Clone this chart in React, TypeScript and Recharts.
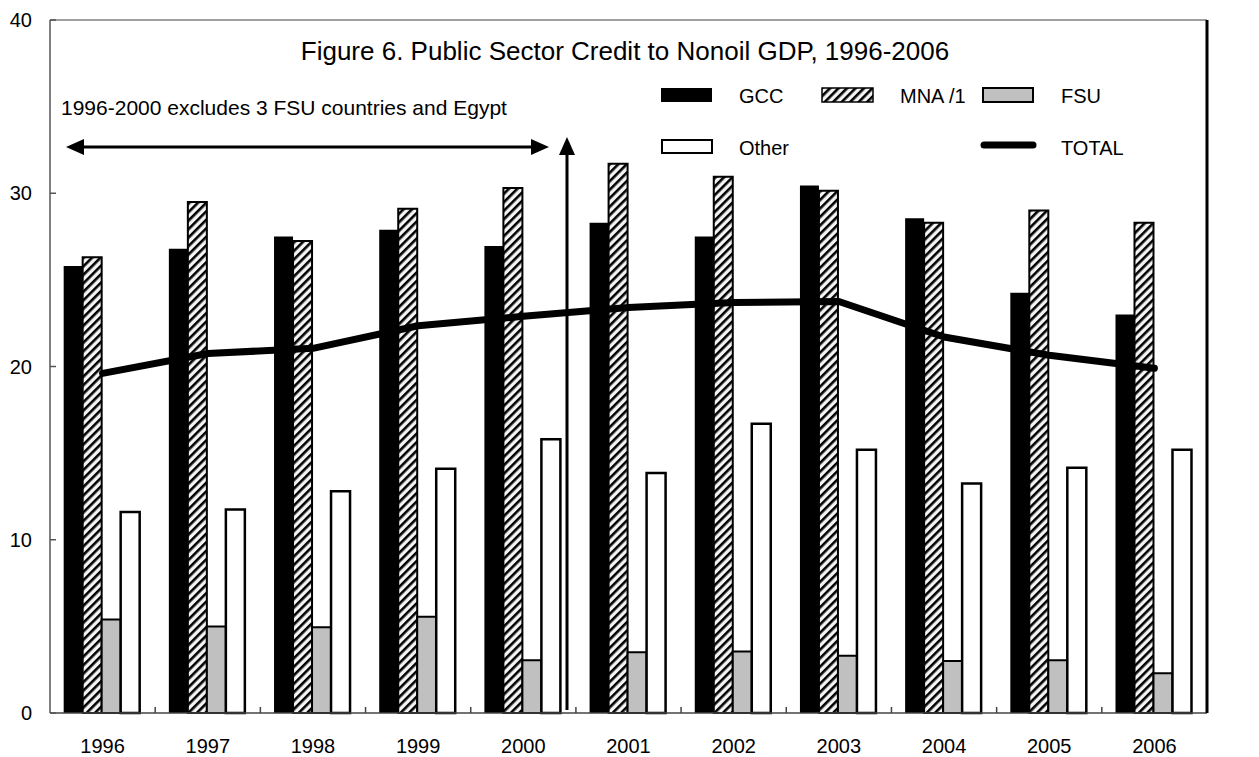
import { Bar, ComposedChart, Line, ReferenceLine, XAxis, YAxis } from "recharts";

// Public sector credit, percent of nonoil GDP
const YEARS = ["1996", "1997", "1998", "1999", "2000", "2001", "2002", "2003", "2004", "2005", "2006"];
const GCC = [25.8, 26.8, 27.5, 27.9, 26.95, 28.3, 27.5, 30.45, 28.55, 24.25, 23.0];
const MNA = [26.3, 29.5, 27.25, 29.1, 30.3, 31.7, 30.95, 30.15, 28.3, 29.0, 28.3];
const FSU = [5.4, 5.0, 4.95, 5.55, 3.05, 3.5, 3.55, 3.3, 3.0, 3.05, 2.3];
const OTHER = [11.6, 11.75, 12.8, 14.1, 15.8, 13.85, 16.7, 15.2, 13.25, 14.15, 15.2];
const TOTAL = [19.6, 20.75, 21.05, 22.35, 22.9, 23.4, 23.7, 23.75, 21.7, 20.65, 19.9];
const Y_TICKS = [0, 10, 20, 30, 40];

const rows = YEARS.map((year, i) => ({
  year,
  gcc: GCC[i],
  mna: MNA[i],
  fsu: FSU[i],
  other: OTHER[i],
  total: TOTAL[i],
}));

const W = 1259;
const H = 757;
const PLOT = { left: 50, right: 1207, top: 20, bottom: 713 };
const FONT = "Arial, 'Liberation Sans', sans-serif";

// year label plus a short inward tick on the left edge of each category
function YearTick(props: any) {
  const { x, payload, index } = props;
  const band = (PLOT.right - PLOT.left) / YEARS.length;
  const edge = x - band / 2;
  return (
    <g>
      {index > 0 ? (
        <line x1={edge} x2={edge} y1={PLOT.bottom} y2={PLOT.bottom - 6} stroke="#444" strokeWidth={1.5} />
      ) : null}
      <text x={x} y={PLOT.bottom + 40} textAnchor="middle" fontSize={20} fill="#000" fontFamily={FONT}>
        {payload.value}
      </text>
    </g>
  );
}

function Overlay() {
  return (
    <svg
      width={W}
      height={H}
      style={{ position: "absolute", left: 0, top: 0, pointerEvents: "none" }}
      fontFamily={FONT}
    >
      <text x={625} y={60} textAnchor="middle" fontSize={26} fill="#000">
        Figure 6. Public Sector Credit to Nonoil GDP, 1996-2006
      </text>

      {/* legend */}
      <rect x={661} y={88} width={51} height={14} fill="#000" />
      <text x={739} y={103} fontSize={20}>GCC</text>
      <rect x={822} y={88} width={51} height={14} fill="url(#hatch)" stroke="#000" strokeWidth={1.5} />
      <text x={900} y={103} fontSize={20}>MNA /1</text>
      <rect x={983} y={88} width={50} height={14} fill="#c0c0c0" stroke="#000" strokeWidth={2} />
      <text x={1061} y={103} fontSize={20}>FSU</text>
      <rect x={662} y={140} width={50} height={13} fill="#fff" stroke="#000" strokeWidth={2} />
      <text x={739} y={155} fontSize={20}>Other</text>
      <line x1={984} x2={1033} y1={145} y2={145} stroke="#000" strokeWidth={7} strokeLinecap="round" />
      <text x={1061} y={155} fontSize={20}>TOTAL</text>

      {/* coverage note */}
      <text x={61} y={115} fontSize={21}>1996-2000 excludes 3 FSU countries and Egypt</text>
      <line x1={80} x2={535} y1={147} y2={147} stroke="#000" strokeWidth={3} />
      <polygon points="66,147 84,139 84,155" fill="#000" />
      <polygon points="549,147 531,139 531,155" fill="#000" />
      <line x1={567} x2={567} y1={150} y2={710} stroke="#000" strokeWidth={3} />
      <polygon points="567,137 559,155 575,155" fill="#000" />
    </svg>
  );
}

export default function App() {
  return (
    <div style={{ position: "absolute", left: 0, top: 0, width: W, height: H, background: "#fff", fontFamily: FONT }}>
      <ComposedChart
        width={W}
        height={H}
        data={rows}
        margin={{ top: PLOT.top, right: 0, bottom: 0, left: 0 }}
        barCategoryGap="13%"
        barGap={0}
      >
        <defs>
          <pattern id="hatch" width={6} height={6} patternUnits="userSpaceOnUse" patternTransform="rotate(45)">
            <rect width={6} height={6} fill="#f4f4f4" />
            <rect width={2.6} height={6} fill="#000" />
          </pattern>
        </defs>
        <XAxis
          dataKey="year"
          height={H - PLOT.bottom}
          tick={<YearTick />}
          tickLine={false}
          axisLine={{ stroke: "#444", strokeWidth: 1.5 }}
          interval={0}
        />
        <YAxis
          yAxisId="left"
          width={PLOT.left}
          domain={[0, 40]}
          ticks={Y_TICKS}
          tickSize={-6}
          tickMargin={24}
          tick={{ fontSize: 20, fill: "#000" }}
          tickLine={{ stroke: "#555", strokeWidth: 1.5 }}
          axisLine={{ stroke: "#555", strokeWidth: 1.5 }}
        />
        <YAxis
          yAxisId="right"
          orientation="right"
          width={W - PLOT.right}
          domain={[0, 40]}
          ticks={Y_TICKS}
          tickSize={-5}
          tickMargin={22}
          tick={{ fontSize: 20, fill: "#000" }}
          tickLine={{ stroke: "#000", strokeWidth: 2.5 }}
          axisLine={{ stroke: "#000", strokeWidth: 3 }}
        />
        <ReferenceLine yAxisId="left" y={40} stroke="#808080" strokeWidth={1.5} />
        <Bar yAxisId="left" dataKey="gcc" name="GCC" fill="#000" isAnimationActive={false} />
        <Bar yAxisId="left" dataKey="mna" name="MNA /1" fill="url(#hatch)" stroke="#000" strokeWidth={2} isAnimationActive={false} />
        <Bar yAxisId="left" dataKey="fsu" name="FSU" fill="#c0c0c0" stroke="#000" strokeWidth={2} isAnimationActive={false} />
        <Bar yAxisId="left" dataKey="other" name="Other" fill="#fff" stroke="#000" strokeWidth={2.5} isAnimationActive={false} />
        <Line
          yAxisId="left"
          type="linear"
          dataKey="total"
          name="TOTAL"
          stroke="#000"
          strokeWidth={7}
          strokeLinecap="round"
          strokeLinejoin="round"
          dot={false}
          isAnimationActive={false}
        />
      </ComposedChart>
      <Overlay />
    </div>
  );
}
